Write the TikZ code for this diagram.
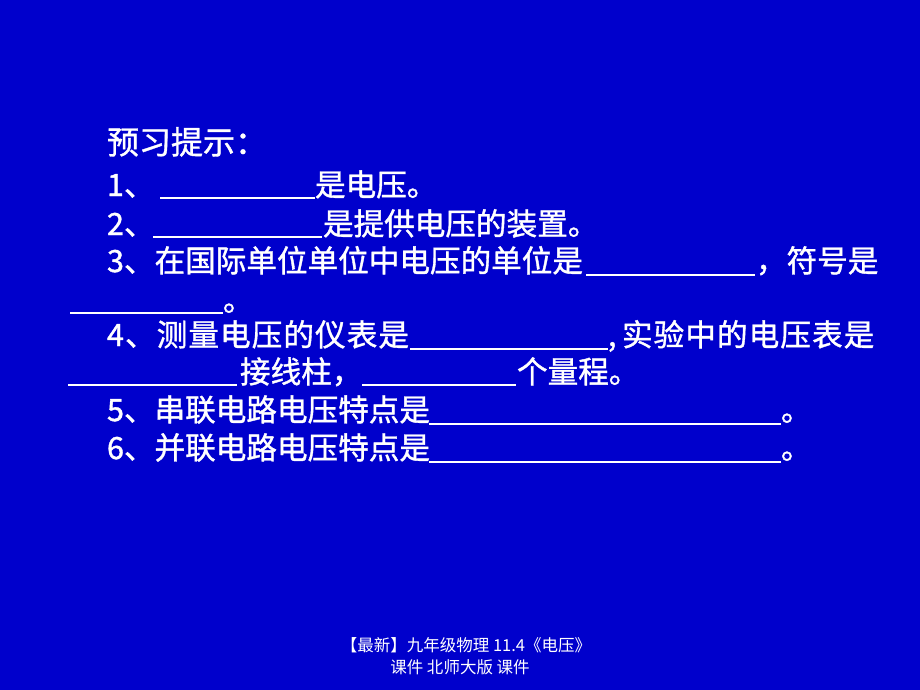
\documentclass[tikz,border=0pt]{standalone}
\usepackage{fontspec}
\setmainfont{Noto Sans CJK SC}
\newfontfamily\cjkfont[FakeBold=1.2]{Noto Sans CJK SC}
\newfontfamily\cjkwide[FakeBold=1.2,LetterSpace=3.5]{Noto Sans CJK SC}
\newfontfamily\cjkfoot{Noto Sans CJK SC}
\definecolor{slidebg}{RGB}{0,0,204}
\begin{document}
\begin{tikzpicture}[x=1pt,y=-1pt,
  txt/.style={anchor=base west,inner sep=0pt,outer sep=0pt,text=white,font=\cjkfont\fontsize{30.6}{36}\selectfont},
  widetxt/.style={txt,font=\cjkwide\fontsize{30.6}{36}\selectfont},
  ttl/.style={anchor=base west,inner sep=0pt,outer sep=0pt,text=white,font=\cjkfont\fontsize{32}{38}\selectfont},
  foot/.style={anchor=base,inner sep=0pt,outer sep=0pt,text=white,font=\cjkfoot\fontsize{16.5}{20}\selectfont},
  blank/.style={draw=white,line width=1.3pt}]
\fill[slidebg] (0,0) rectangle (920,690);
\useasboundingbox (0,0) rectangle (920,690);
% title
\node[ttl] (title) at (107,154) {预习提示：};
% line 1
\node[txt] (l1a) at (107,196) {1、};
\coordinate (u1s) at (160,198); \coordinate (u1e) at (315,198);
\draw[blank] (u1s) -- (u1e);
\node[txt] (l1b) at (315,196) {是电压。};
% line 2
\node[txt] (l2a) at (107,235) {2、};
\coordinate (u2s) at (153,237); \coordinate (u2e) at (322,237);
\draw[blank] (u2s) -- (u2e);
\node[txt] (l2b) at (323,235) {是提供电压的装置。};
% line 3
\node[txt] (l3a) at (107,272) {3、在国际单位单位中电压的单位是};
\coordinate (u3s) at (586,275); \coordinate (u3e) at (755,275);
\draw[blank] (u3s) -- (u3e);
\node[txt] (l3b) at (756,272) {，符号是};
\coordinate (u3bs) at (70,313); \coordinate (u3be) at (223,313);
\draw[blank] (u3bs) -- (u3be);
\node[txt] (l3c) at (223,311) {。};
% line 4
\node[widetxt] (l4a) at (107,346) {4、测量电压的仪表是};
\coordinate (u4s) at (410,349); \coordinate (u4e) at (608,349);
\draw[blank] (u4s) -- (u4e);
\node[txt] (l4b) at (608,346) {,};
\node[widetxt] (l4c) at (622,346) {实验中的电压表是};
\coordinate (u4bs) at (68,385); \coordinate (u4be) at (237,385);
\draw[blank] (u4bs) -- (u4be);
\node[txt] (l4d) at (240,383) {接线柱，};
\coordinate (u4cs) at (362,385); \coordinate (u4ce) at (516,385);
\draw[blank] (u4cs) -- (u4ce);
\node[txt] (l4e) at (517,383) {个量程。};
% line 5
\node[txt] (l5a) at (107,421) {5、串联电路电压特点是};
\coordinate (u5s) at (429,424); \coordinate (u5e) at (781,424);
\draw[blank] (u5s) -- (u5e);
\node[txt] (l5b) at (781,421) {。};
% line 6
\node[txt] (l6a) at (107,459) {6、并联电路电压特点是};
\coordinate (u6s) at (429,462); \coordinate (u6e) at (781,462);
\draw[blank] (u6s) -- (u6e);
\node[txt] (l6b) at (781,459) {。};
% footer
\node[foot] (f1) at (466,651) {【最新】九年级物理 11.4《电压》};
\node[foot] (f2) at (460,673) {课件 北师大版 课件};
\end{tikzpicture}
\end{document}
